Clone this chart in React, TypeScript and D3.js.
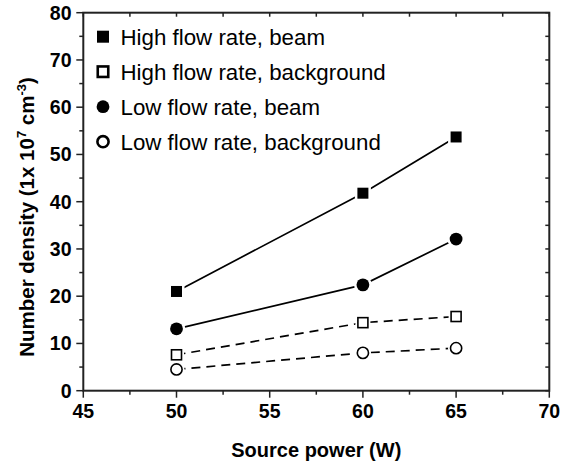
import React from "react";
import * as d3 from "d3";

const powers = [50, 60, 65];
const highBeam = [21.0, 41.8, 53.7];
const highBg = [7.6, 14.4, 15.7];
const lowBeam = [13.1, 22.4, 32.1];
const lowBg = [4.5, 8.0, 9.0];
const seriesNames = [
  "High flow rate, beam",
  "High flow rate, background",
  "Low flow rate, beam",
  "Low flow rate, background",
];
const xTicks = [45, 50, 55, 60, 65, 70];
const yTicks = [0, 10, 20, 30, 40, 50, 60, 70, 80];

const W = 566;
const H = 468;
const L = 83.3;
const R = 549.3;
const T = 12.7;
const B = 390.7;
const FONT = "'Liberation Sans', Arial, sans-serif";
const AX = "#222";

type S = { name: string; values: number[]; shape: "square" | "circle"; filled: boolean; dashed: boolean };

const series: S[] = [
  { name: seriesNames[0], values: highBeam, shape: "square", filled: true, dashed: false },
  { name: seriesNames[1], values: highBg, shape: "square", filled: false, dashed: true },
  { name: seriesNames[2], values: lowBeam, shape: "circle", filled: true, dashed: false },
  { name: seriesNames[3], values: lowBg, shape: "circle", filled: false, dashed: true },
];

function Marker({ x, y, shape, filled, legend }: { x: number; y: number; shape: string; filled: boolean; legend?: boolean }) {
  const sw = legend ? 2.6 : 1.6;
  if (shape === "square") {
    const s = filled ? (legend ? 12 : 11) : legend ? 10.5 : 10;
    return (
      <g>
        {!legend && <rect x={x - s / 2 - 2.5} y={y - s / 2 - 2.5} width={s + 5} height={s + 5} fill="#fff" />}
        <rect
          x={x - s / 2}
          y={y - s / 2}
          width={s}
          height={s}
          fill={filled ? "#000" : "#fff"}
          stroke="#000"
          strokeWidth={filled ? 0 : sw}
        />
      </g>
    );
  }
  const r = filled ? 6.4 : 5.6;
  return (
    <g>
      {!legend && <circle cx={x} cy={y} r={r + 2.5} fill="#fff" />}
      <circle cx={x} cy={y} r={r} fill={filled ? "#000" : "#fff"} stroke="#000" strokeWidth={filled ? 0 : sw} />
    </g>
  );
}

export default function App() {
  const x = d3.scaleLinear().domain([45, 70]).range([L, R]);
  const y = d3.scaleLinear().domain([0, 80]).range([B, T]);
  const line = d3
    .line<[number, number]>()
    .x((d) => x(d[0]))
    .y((d) => y(d[1]));

  const xMinor = d3.range(45, 70.01, 2.5);
  const yMinor = d3.range(0, 80.01, 5);

  return (
    <svg width={W} height={H} style={{ position: "absolute", left: 0, top: 0 }} fontFamily={FONT}>
      <rect width={W} height={H} fill="#fff" />
      {series.map((s, i) => (
        <path
          key={"l" + i}
          d={line(powers.map((p, j) => [p, s.values[j]] as [number, number])) || ""}
          fill="none"
          stroke="#000"
          strokeWidth={1.7}
          strokeDasharray={s.dashed ? "9,6" : undefined}
        />
      ))}
      {series.map((s, i) =>
        powers.map((p, j) => (
          <Marker key={"m" + i + "-" + j} x={x(p)} y={y(s.values[j])} shape={s.shape} filled={s.filled} />
        ))
      )}
      <rect x={L} y={T} width={R - L} height={B - T} fill="none" stroke={AX} strokeWidth={2} />
      {xMinor.map((v) => {
        const major = Math.abs(v % 5) < 1e-6;
        return (
          <g key={"xt" + v}>
            <line x1={x(v)} x2={x(v)} y1={B} y2={B + (major ? 7 : 4)} stroke={AX} strokeWidth={1.5} />
            <line x1={x(v)} x2={x(v)} y1={T} y2={T + 4} stroke={AX} strokeWidth={1.5} />
          </g>
        );
      })}
      {yMinor.map((v) => {
        const major = Math.abs(v % 10) < 1e-6;
        return (
          <g key={"yt" + v}>
            <line x1={L} x2={L - (major ? 7 : 4)} y1={y(v)} y2={y(v)} stroke={AX} strokeWidth={1.5} />
            <line x1={R} x2={R - 4} y1={y(v)} y2={y(v)} stroke={AX} strokeWidth={1.5} />
          </g>
        );
      })}
      {xTicks.map((v) => (
        <text key={"xl" + v} x={x(v)} y={418} textAnchor="middle" fontSize={19.5} fontWeight="bold" fill="#000">
          {v}
        </text>
      ))}
      {yTicks.map((v) => (
        <text key={"yl" + v} x={71.5} y={y(v) + 6.8} textAnchor="end" fontSize={19.5} fontWeight="bold" fill="#000">
          {v}
        </text>
      ))}
      <text x={(L + R) / 2} y={457} textAnchor="middle" fontSize={20} fontWeight="bold" fill="#000">
        Source power (W)
      </text>
      <text transform={`translate(34,217) rotate(-90)`} textAnchor="middle" fontSize={20.5} fontWeight="bold" fill="#000">
        Number density (1x 10
        <tspan dy={-8} fontSize={13}>7</tspan>
        <tspan dy={8}> cm</tspan>
        <tspan dy={-8} fontSize={13}>-3</tspan>
        <tspan dy={8}>)</tspan>
      </text>
      {series.map((s, i) => {
        const cy = 36.7 + i * 35;
        return (
          <g key={"lg" + i}>
            <Marker x={103} y={cy} shape={s.shape} filled={s.filled} legend />
            <text x={120.5} y={cy + 7.8} fontSize={22.3} fill="#000">
              {s.name}
            </text>
          </g>
        );
      })}
    </svg>
  );
}
